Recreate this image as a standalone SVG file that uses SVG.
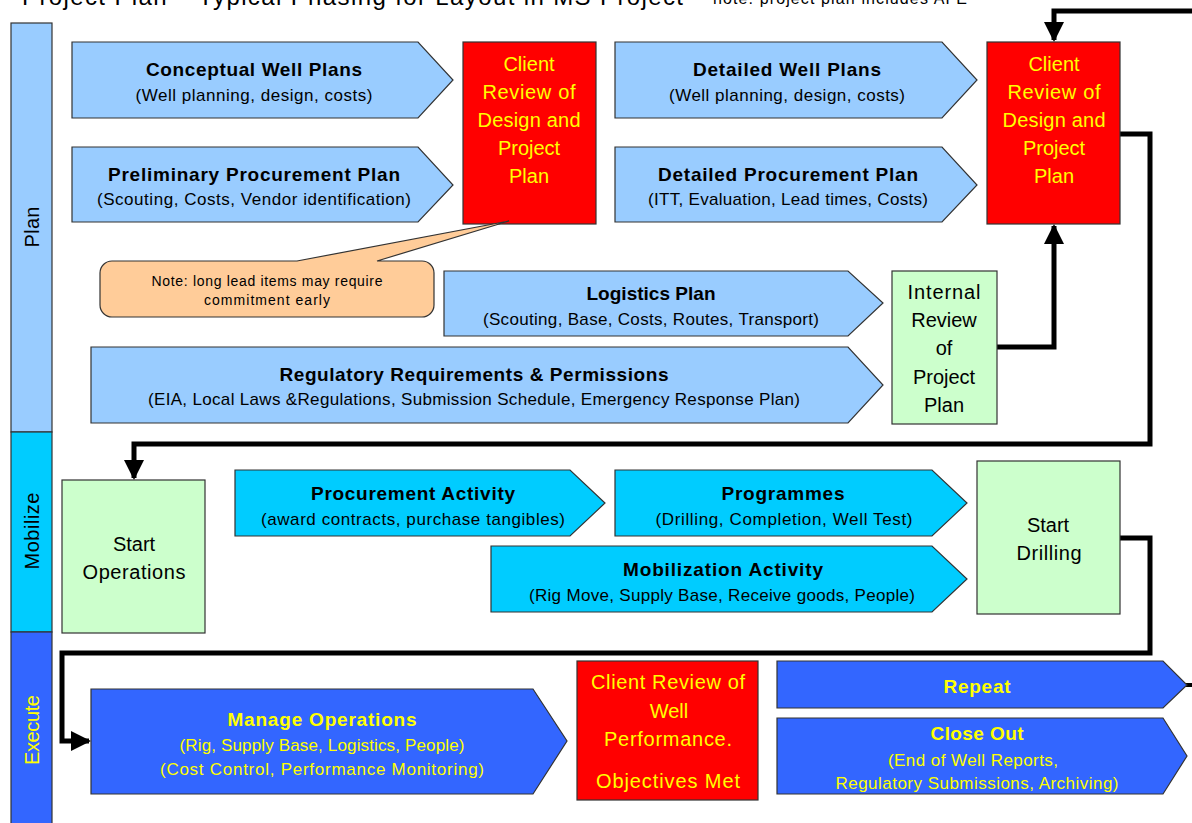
<svg xmlns="http://www.w3.org/2000/svg" width="1192" height="823" viewBox="0 0 1192 823">
<defs>
<marker id="ah" markerWidth="4" markerHeight="4" refX="3.6" refY="2" orient="auto" markerUnits="strokeWidth">
<path d="M0,0 L4,2 L0,4 Z" fill="#000"/>
</marker>
<style>
text{font-family:"Liberation Sans",Arial,sans-serif;text-anchor:middle}
.sh{stroke:#333;stroke-width:1.2}
.lb{fill:#99CCFF}
.cy{fill:#00CCFF}
.bl{fill:#3366FF}
.rd{fill:#FF0000}
.gr{fill:#CCFFCC}
.t{font-weight:bold;font-size:19px;fill:#000}
.s{font-size:17px;fill:#000}
.ty{font-weight:bold;font-size:19px;fill:#FFFF00}
.sy{font-size:17px;fill:#FFFF00}
.bx{font-size:20px;fill:#000}
.by{font-size:20px;fill:#FFFF00}
.ph{font-size:20px}
.con{fill:none;stroke:#000;stroke-width:5}
</style>
</defs>
<rect width="1192" height="823" fill="#fff"/>
<g id="title">
<text x="22" y="5" style="text-anchor:start;font-size:24px" textLength="661">Project Plan – Typical Phasing for Layout in MS Project</text>
<text x="713" y="4" style="text-anchor:start;font-size:16px" textLength="254">note: project plan includes AFE</text>
</g>
<g id="phases">
<rect x="11" y="23" width="41" height="409" class="sh lb"/>
<rect x="11" y="432" width="41" height="200" class="sh cy"/>
<rect x="11" y="632" width="41" height="200" class="sh bl"/>
<text class="ph" transform="translate(39,227) rotate(-90)" fill="#000" textLength="41">Plan</text>
<text class="ph" transform="translate(39,531) rotate(-90)" fill="#000" textLength="77">Mobilize</text>
<text class="ph" transform="translate(39,730) rotate(-90)" fill="#FFFF00" textLength="70">Execute</text>
</g>
<g id="connectors">
<polyline class="con" points="1192,11 1054,11 1054,40" marker-end="url(#ah)"/>
<polyline class="con" points="997,347 1054,347 1054,226" marker-end="url(#ah)"/>
<polyline class="con" points="1120,134 1150,134 1150,444 134,444 134,478" marker-end="url(#ah)"/>
<polyline class="con" points="1120,538 1150,538 1150,653 62,653 62,741 89,741" marker-end="url(#ah)"/>
<line x1="1186" y1="685" x2="1192" y2="685" stroke="#000" stroke-width="4"/>
</g>
<g id="conceptual">
<path class="sh lb" d="M72,42 H418 L453,80 L418,118 H72 Z"/>
<text class="t" x="254" y="76" textLength="216">Conceptual Well Plans</text>
<text class="s" x="254" y="101" textLength="237">(Well planning, design, costs)</text>
</g>
<g id="prelim">
<path class="sh lb" d="M72,147 H418 L453,185 L418,222 H72 Z"/>
<text class="t" x="254" y="181" textLength="292">Preliminary Procurement Plan</text>
<text class="s" x="254" y="205" textLength="314">(Scouting, Costs, Vendor identification)</text>
</g>
<g id="client1">
<rect x="463" y="42" width="133" height="182" class="sh rd"/>
<text class="by" x="529" y="71">Client</text>
<text class="by" x="529" y="99" textLength="93">Review of</text>
<text class="by" x="529" y="127" textLength="103">Design and</text>
<text class="by" x="529" y="155">Project</text>
<text class="by" x="529" y="183">Plan</text>
</g>
<g id="detailedwell">
<path class="sh lb" d="M615,42 H942 L977,80 L942,118 H615 Z"/>
<text class="t" x="787" y="76" textLength="188">Detailed Well Plans</text>
<text class="s" x="787" y="101" textLength="236">(Well planning, design, costs)</text>
</g>
<g id="detailedproc">
<path class="sh lb" d="M615,147 H942 L977,185 L942,222 H615 Z"/>
<text class="t" x="788" y="181" textLength="260">Detailed Procurement Plan</text>
<text class="s" x="788" y="205" textLength="280">(ITT, Evaluation, Lead times, Costs)</text>
</g>
<g id="client2">
<rect x="987" y="42" width="133" height="182" class="sh rd"/>
<text class="by" x="1054" y="71">Client</text>
<text class="by" x="1054" y="99" textLength="93">Review of</text>
<text class="by" x="1054" y="127" textLength="103">Design and</text>
<text class="by" x="1054" y="155">Project</text>
<text class="by" x="1054" y="183">Plan</text>
</g>
<g id="note">
<path d="M112,261 H297 L509,221 L377,261 H422 A12,12 0 0 1 434,273 V305 A12,12 0 0 1 422,317 H112 A12,12 0 0 1 100,305 V273 A12,12 0 0 1 112,261 Z" fill="#FFCC99" stroke="#333" stroke-width="1.2"/>
<text x="267" y="286" style="font-size:14px" fill="#000" textLength="231">Note: long lead items may require</text>
<text x="267" y="305" style="font-size:14px" fill="#000" textLength="126">commitment early</text>
</g>
<g id="logistics">
<path class="sh lb" d="M444,271 H848 L883,303 L848,336 H444 Z"/>
<text class="t" x="651" y="300" textLength="129">Logistics Plan</text>
<text class="s" x="651" y="325" textLength="336">(Scouting, Base, Costs, Routes, Transport)</text>
</g>
<g id="regulatory">
<path class="sh lb" d="M91,347 H848 L883,385 L848,423 H91 Z"/>
<text class="t" x="474" y="381" textLength="389">Regulatory Requirements &amp; Permissions</text>
<text class="s" x="474" y="405" textLength="652">(EIA, Local Laws &amp;Regulations, Submission Schedule, Emergency Response Plan)</text>
</g>
<g id="internal">
<rect x="892" y="271" width="105" height="153" class="sh gr"/>
<text class="bx" x="944" y="299" textLength="73">Internal</text>
<text class="bx" x="944" y="327">Review</text>
<text class="bx" x="944" y="355">of</text>
<text class="bx" x="944" y="384">Project</text>
<text class="bx" x="944" y="412">Plan</text>
</g>
<g id="startops">
<rect x="62" y="480" width="143" height="153" class="sh gr"/>
<text class="bx" x="134" y="551">Start</text>
<text class="bx" x="134" y="579" textLength="103">Operations</text>
</g>
<g id="procact">
<path class="cy sh" d="M235,470 H570 L605,503 L570,536 H235 Z"/>
<text class="t" x="413" y="500" textLength="204">Procurement Activity</text>
<text class="s" x="413" y="525" textLength="304">(award contracts, purchase tangibles)</text>
</g>
<g id="programmes">
<path class="cy sh" d="M615,470 H932 L967,503 L932,536 H615 Z"/>
<text class="t" x="783" y="500" textLength="123">Programmes</text>
<text class="s" x="784" y="525" textLength="257">(Drilling, Completion, Well Test)</text>
</g>
<g id="mobact">
<path class="cy sh" d="M491,546 H932 L967,579 L932,612 H491 Z"/>
<text class="t" x="723" y="576" textLength="200">Mobilization Activity</text>
<text class="s" x="722" y="601" textLength="386">(Rig Move, Supply Base, Receive goods, People)</text>
</g>
<g id="startdrill">
<rect x="977" y="461" width="143" height="153" class="sh gr"/>
<text class="bx" x="1048" y="532">Start</text>
<text class="bx" x="1049" y="560" textLength="65">Drilling</text>
</g>
<g id="manageops">
<path class="bl sh" d="M91,689 H533 L567,741 L533,794 H91 Z"/>
<text class="ty" x="322" y="726" textLength="189">Manage Operations</text>
<text class="sy" x="322" y="751" textLength="285">(Rig, Supply Base, Logistics, People)</text>
<text class="sy" x="322" y="775" textLength="324">(Cost Control, Performance Monitoring)</text>
</g>
<g id="client3">
<rect x="577" y="661" width="181" height="139" class="sh rd"/>
<text class="by" x="668" y="689" textLength="154">Client Review of</text>
<text class="by" x="669" y="718">Well</text>
<text class="by" x="668" y="746" textLength="128">Performance.</text>
<text class="by" x="668" y="788" textLength="144">Objectives Met</text>
</g>
<g id="repeat">
<path class="bl sh" d="M777,661 H1163 L1187,685 L1163,708 H777 Z"/>
<text class="ty" x="977" y="693" textLength="67">Repeat</text>
</g>
<g id="closeout">
<path class="bl sh" d="M777,718 H1163 L1187,756 L1163,794 H777 Z"/>
<text class="ty" x="977" y="740" textLength="93">Close Out</text>
<text class="sy" x="973" y="766" textLength="170">(End of Well Reports,</text>
<text class="sy" x="977" y="789" textLength="283">Regulatory Submissions, Archiving)</text>
</g>
</svg>
